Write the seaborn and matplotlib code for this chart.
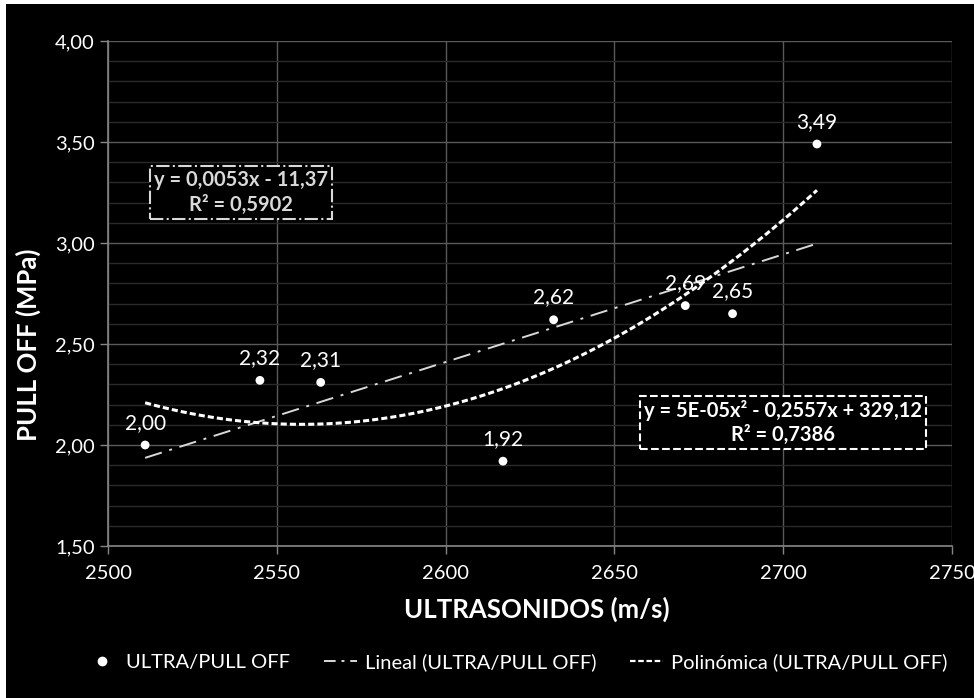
import numpy as np
import pandas as pd
import matplotlib
matplotlib.use('Agg')
import matplotlib.pyplot as plt
from matplotlib.lines import Line2D
from matplotlib.patches import Rectangle
from matplotlib.ticker import MultipleLocator, FuncFormatter
import seaborn as sns

# DATA
ultrasonidos = [2511, 2545, 2563, 2617, 2632, 2671, 2685, 2710]
pull_off = [2.00, 2.32, 2.31, 1.92, 2.62, 2.69, 2.65, 3.49]
point_labels = ['2,00', '2,32', '2,31', '1,92', '2,62', '2,69', '2,65', '3,49']
eq_lineal = 'y = 0,0053x - 11,37\nR² = 0,5902'
eq_poly = 'y = 5E-05x² - 0,2557x + 329,12\nR² = 0,7386'
legend_labels = ['ULTRA/PULL OFF', 'Lineal (ULTRA/PULL OFF)', 'Polinómica (ULTRA/PULL OFF)']

df = pd.DataFrame({'ultra': ultrasonidos, 'pull': pull_off})

sns.set_style('dark')
plt.rcParams['font.family'] = ['Lato', 'DejaVu Sans']

fig = plt.figure(figsize=(9.74, 6.98), dpi=100, facecolor='white')
# black chart area inside a thin white margin
fig.patches.append(Rectangle((6 / 974, 0), 1, 1 - 4 / 698, transform=fig.transFigure,
                             facecolor='black', edgecolor='none', zorder=-10))
ax = fig.add_axes([108 / 974, 152 / 698, 844 / 974, 505 / 698])
ax.set_facecolor('black')

grey = '#d9d9d9'

# trend lines
sns.regplot(data=df, x='ultra', y='pull', order=1, ci=None, scatter=False, ax=ax,
            line_kws=dict(color=grey, lw=1.4, dashes=(9, 4, 1.5, 4), zorder=3))
sns.regplot(data=df, x='ultra', y='pull', order=2, ci=None, scatter=False, ax=ax,
            line_kws=dict(color='white', lw=2.2, dashes=(2, 1), zorder=3))

# points
sns.scatterplot(data=df, x='ultra', y='pull', color='white', s=40, edgecolor='none',
                ax=ax, zorder=4)

for xv, yv, lab in zip(ultrasonidos, pull_off, point_labels):
    ax.annotate(lab, (xv, yv), xytext=(0, 16), textcoords='offset points',
                ha='center', va='center', color='white', fontsize=15)

ax.set_xlim(2500, 2750)
ax.set_ylim(1.5, 4.0)
ax.xaxis.set_major_locator(MultipleLocator(50))
ax.yaxis.set_major_locator(MultipleLocator(0.5))
ax.yaxis.set_minor_locator(MultipleLocator(0.1))
ax.yaxis.set_major_formatter(FuncFormatter(lambda v, p: f'{v:.2f}'.replace('.', ',')))
ax.grid(which='major', color='#5a5a5a', lw=1)
ax.grid(which='minor', axis='y', color='#2a2a2a', lw=1)
ax.set_axisbelow(True)

for side in ['top', 'right']:
    ax.spines[side].set_visible(False)
for side in ['left', 'bottom']:
    ax.spines[side].set_visible(True)
    ax.spines[side].set_color('#868686')
    ax.spines[side].set_linewidth(1.2)
ax.tick_params(axis='both', which='major', colors='white', labelsize=14.5,
               length=6, width=1, direction='out', color='#868686',
               bottom=True, left=True)
ax.tick_params(axis='x', which='major', pad=8)
ax.tick_params(axis='y', which='minor', left=False)

ax.set_xlabel('ULTRASONIDOS (m/s)', color='white', fontsize=18.5, fontweight='bold')
ax.set_ylabel('PULL OFF (MPa)', color='white', fontsize=18.5, fontweight='bold')
ax.xaxis.set_label_coords(0.508, -0.1)
ax.yaxis.set_label_coords(-0.079, 0.398)

# trendline equations
ax.text(2539.4, 3.25, eq_lineal, ha='center', va='center', color=grey, fontsize=14.5,
        fontweight='bold', linespacing=1.25,
        bbox=dict(boxstyle='square,pad=0.2', fc='black', ec=grey, lw=1.5, ls='-.'))
ax.text(2700, 2.11, eq_poly, ha='center', va='center', color='white', fontsize=14.5,
        fontweight='bold', linespacing=1.25,
        bbox=dict(boxstyle='square,pad=0.2', fc='black', ec='white', lw=1.5, ls='--'))

handles = [
    Line2D([], [], ls='none', marker='o', color='white', markersize=6),
    Line2D([], [], color=grey, lw=1.4, dashes=(6, 3, 1.5, 3)),
    Line2D([], [], color='white', lw=1.6, dashes=(2.5, 1.2)),
]
fig.legend(handles, legend_labels, loc='center', bbox_to_anchor=(0.53, 0.052), ncol=3,
           frameon=False, fontsize=14.5, labelcolor='white', handlelength=1.65,
           handletextpad=0.4, columnspacing=1.65)

fig.savefig('out.png', dpi=100, facecolor='white')
